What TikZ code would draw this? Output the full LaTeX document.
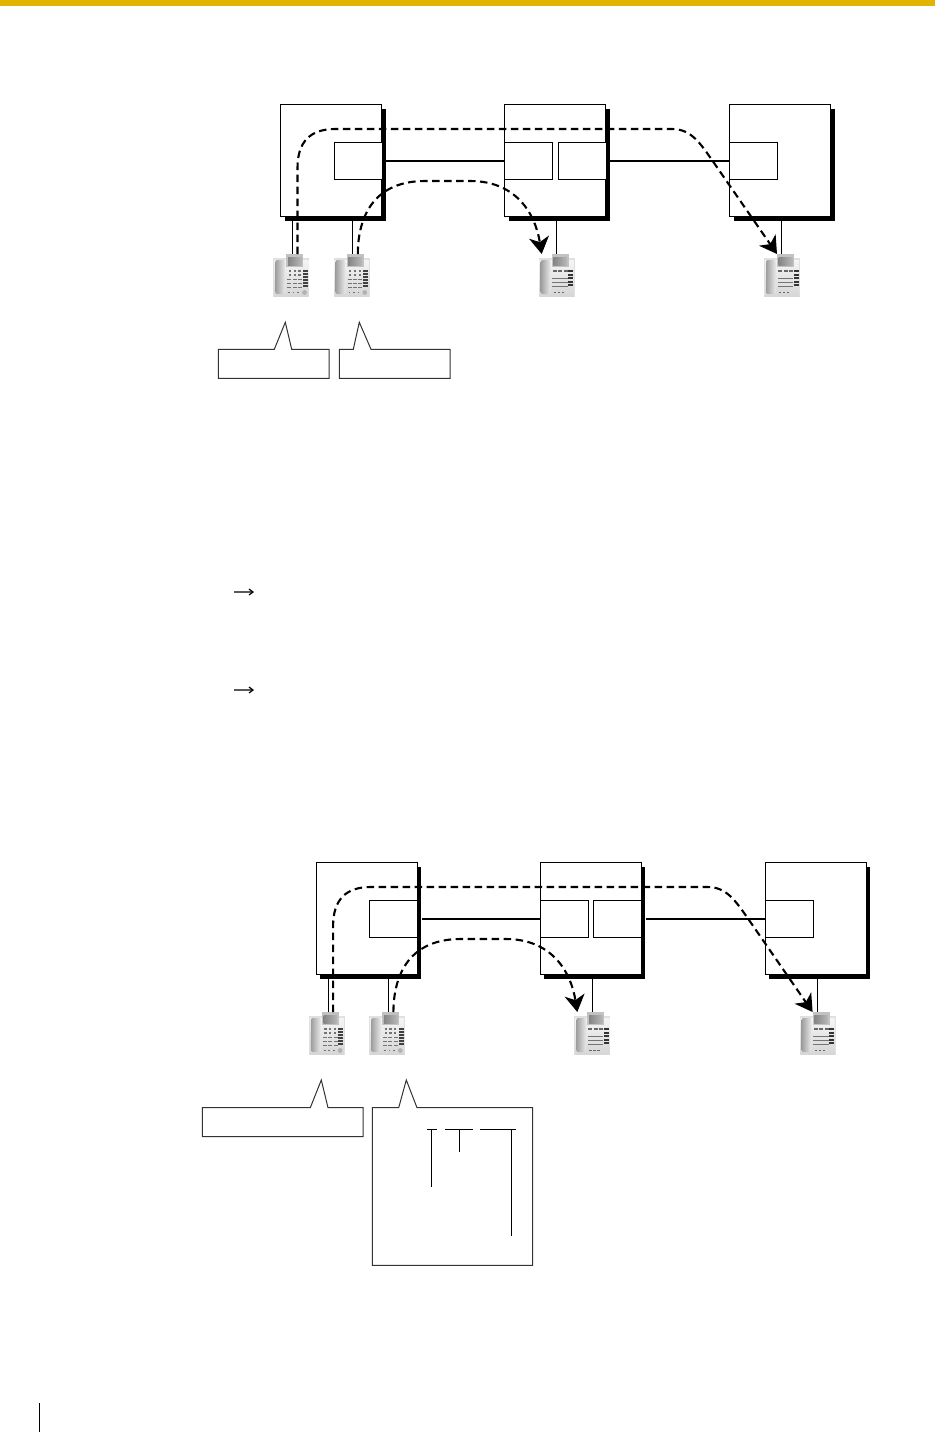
\documentclass[tikz,border=0pt]{standalone}
\usepackage{amsmath,amssymb}
\usepackage{tikz}
\usetikzlibrary{arrows.meta,positioning,shadows}
\definecolor{headerbar}{HTML}{E0B400}
\tikzset{
  pbxbox/.style={draw, fill=white, line width=1pt, outer sep=0pt, inner sep=0pt, minimum width=101pt, minimum height=112pt, anchor=north west, drop shadow={shadow xshift=4pt, shadow yshift=-4pt, fill=black, opacity=1}},
  cardbox/.style={draw, fill=white, line width=1pt, outer sep=0pt, inner sep=0pt, minimum width=48pt, minimum height=37pt, anchor=north west},
  trunkline/.style={line width=1.9pt},
  extline/.style={line width=1pt},
  callpath/.style={line width=2.1pt, dash pattern=on 7.5pt off 4.5pt, -{Stealth[length=17pt,width=20pt,inset=5pt]}},
  calloutline/.style={draw=black!80, line width=1pt},
  markline/.style={line width=1pt},
  smallarrow/.style={draw=black!65, line width=1.2pt, -{Straight Barb[length=4pt,width=6pt,black]}},
  pics/phonebase/.style={code={
    \fill[black!12] (0,4) rectangle (36,43);
    \shade[top color=black!4, bottom color=black!16] (1,6) rectangle (35,42);
    \fill[black!24] (13,0) rectangle (30,13);
    \shade[left color=black!48, right color=black!28] (14.7,3.3) rectangle (28.3,11);
    \shade[left color=black!38, right color=black!8, rounded corners=2pt] (2,6) rectangle (12,40);
  }},
  pics/phoneone/.style={code={
    \pic {phonebase};
    \foreach \kx in {15.5,20.3,25} {\foreach \ky in {15.5,19.5} \fill[black!55] (\kx,\ky) rectangle +(2.2,2);}
    \foreach \ky in {25,29,33} {\foreach \kx in {14,19.3,24.6} \fill[black!55] (\kx,\ky) rectangle +(4,1.1);}
    \foreach \ky in {15.5,18.5,...,33} \fill[black!75] (29.5,\ky) rectangle +(5,2);
    \fill[black!30] (31.2,38.5) circle (2.4);
    \foreach \kx in {15,19.5,24} \fill[black!55] (\kx,38) rectangle +(1.6,1.2);
  }},
  pics/phonetwo/.style={code={
    \pic {phonebase};
    \foreach \kx in {14,19.5,25} \fill[black!60] (\kx,16) rectangle +(4,2.4);
    \foreach \ky in {23.5,27.5,31.5} \fill[black!55] (13.5,\ky) rectangle +(15.5,1.1);
    \foreach \ky in {16,19.5,...,33} \fill[black!80] (29.5,\ky) rectangle +(5,2.3);
    \foreach \kx in {15,19,23} \fill[black!60] (\kx,38) rectangle +(2.2,1.2);
  }},
}
% three exchanges with their extensions and the two call paths
\newcommand{\pbxnetwork}{
  \coordinate (tapA) at (292.5,255);
  \coordinate (tapB) at (352.5,255);
  \coordinate (tapC) at (556.5,255);
  \coordinate (tapD) at (781.5,255);
  \draw[extline] (tapA) -- (292.5,218);
  \draw[extline] (tapB) -- (352.5,218);
  \draw[extline] (tapC) -- (556.5,218);
  \draw[extline] (tapD) -- (781.5,218);
  \node[pbxbox] (pbxA) at (280.8,104.5) {};
  \node[pbxbox] (pbxB) at (504.5,104.5) {};
  \node[pbxbox] (pbxC) at (729.5,104.5) {};
  \node[cardbox] (cardA) at (334.3,142.3) {};
  \node[cardbox] (cardBa) at (504.5,142.3) {};
  \node[cardbox] (cardBb) at (558,142.3) {};
  \node[cardbox] (cardC) at (729.5,142.3) {};
  \draw[trunkline] (cardA.east) ++(4,0) -- (cardBa.west);
  \draw[trunkline] (cardBb.east) ++(4,0) -- (cardC.west);
  \pic at (273.3,254) {phoneone};
  \pic at (333.5,254) {phoneone};
  \pic at (538.7,254) {phonetwo};
  \pic at (764,254) {phonetwo};
  \coordinate (startA) at (297.5,254);
  \coordinate (startB) at (357.8,254);
  \coordinate (endC) at (541.7,254);
  \coordinate (endD) at (777,254);
  \draw[callpath] (startA) -- (297.5,168) .. controls (297.5,142) and (310,129) .. (335,129) -- (672,129) .. controls (691,129) and (700,143) .. (712,160) -- (endD);
  \draw[callpath] (startB) .. controls (358,215) and (375,181) .. (425,181) -- (470,181) .. controls (515,181) and (535,212) .. (endC);
}
\begin{document}
\begin{tikzpicture}[x=1pt, y=-1pt]
  \useasboundingbox (0,0) rectangle (935,1432);
  \fill[headerbar] (0,0) rectangle (935,6);
  % upper figure
  \pbxnetwork
  \draw[calloutline] (218.3,349.3) -- (274.3,349.3) -- (285.3,322.3) -- (291.7,349.3) -- (329,349.3) -- (329,378.3) -- (218.3,378.3) -- cycle;
  \draw[calloutline] (339.3,349.3) -- (353.3,349.3) -- (359.3,322.3) -- (371,349.3) -- (450,349.3) -- (450,378.3) -- (339.3,378.3) -- cycle;
  % arrows of the text lines
  \coordinate (stepa) at (234,592);
  \coordinate (stepb) at (234,690);
  \draw[smallarrow] (stepa) -- ++(20,0);
  \draw[smallarrow] (stepb) -- ++(20,0);
  % lower figure
  \begin{scope}[shift={(35.6,758)}]
    \pbxnetwork
  \end{scope}
  \draw[calloutline] (202.3,1107.7) -- (310.3,1107.7) -- (321.3,1080) -- (328,1107.7) -- (363,1107.7) -- (363,1136.7) -- (202.3,1136.7) -- cycle;
  \draw[calloutline] (372.3,1107.7) -- (398.7,1107.7) -- (406.3,1080) -- (417,1107.7) -- (532.7,1107.7) -- (532.7,1265.3) -- (372.3,1265.3) -- cycle;
  \draw[markline] (427,1129) -- (437,1129) (431.3,1129) -- (431.3,1186.7);
  \draw[markline] (445,1129) -- (473,1129) (459.3,1129) -- (459.3,1151.7);
  \draw[markline] (480,1129) -- (516,1129) (511.3,1129) -- (511.3,1235.7);
  % page margin rule
  \draw[line width=1pt] (39.5,1403) -- (39.5,1432);
\end{tikzpicture}
\end{document}
